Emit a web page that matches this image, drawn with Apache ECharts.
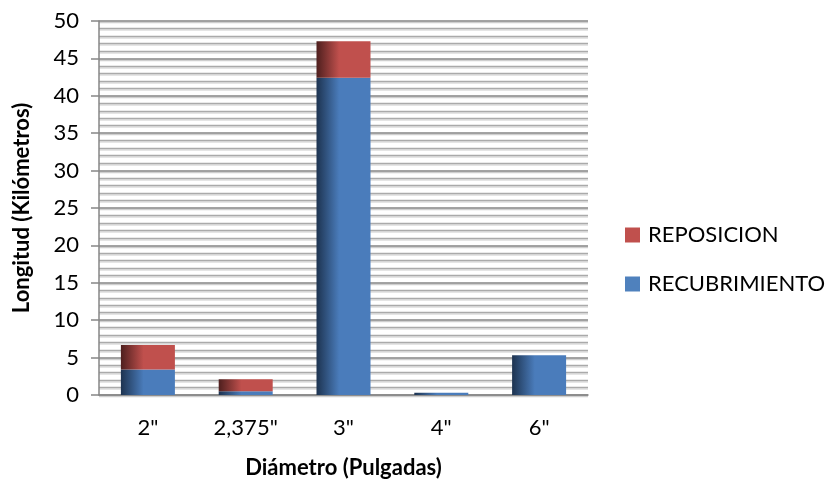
<!DOCTYPE html>
<html>
<head>
<meta charset="utf-8">
<script src="https://cdn.jsdelivr.net/npm/echarts@6/dist/echarts.min.js"></script>
<style>
  html, body { margin: 0; padding: 0; background: #ffffff; }
  #chart { width: 828px; height: 485px; }
</style>
</head>
<body>
<div id="chart"></div>
<script>
// Pipe diameters and lengths (km) per kind of work
const categories = ['2"', '2,375"', '3"', '4"', '6"'];
const recubrimiento = [3.4, 0.5, 42.4, 0.3, 5.3];
const reposicion = [3.3, 1.6, 4.9, 0, 0];
const yTicks = { min: 0, max: 50, interval: 5 };

const FONT = 'Lato, "Open Sans", sans-serif';

function shade(dark, base) {
  return new echarts.graphic.LinearGradient(0, 0, 1, 0, [
    { offset: 0, color: dark },
    { offset: 0.42, color: base },
    { offset: 1, color: base }
  ]);
}

const chart = echarts.init(document.getElementById('chart'), null, { renderer: 'canvas' });

chart.setOption({
  animation: false,
  backgroundColor: '#ffffff',
  grid: { left: 99, right: 240, top: 21, bottom: 90 },
  legend: {
    orient: 'vertical',
    left: 620,
    top: 219,
    itemWidth: 15,
    itemHeight: 15,
    itemGap: 27,
    icon: 'rect',
    data: [
      { name: 'REPOSICION', itemStyle: { color: '#c0504d' } },
      { name: 'RECUBRIMIENTO', itemStyle: { color: '#4f81bd' } }
    ],
    textStyle: { fontFamily: FONT, fontSize: 22, color: '#000000', padding: [0, 0, 0, 3] }
  },
  xAxis: {
    type: 'category',
    data: categories,
    name: 'Diámetro (Pulgadas)',
    nameLocation: 'middle',
    nameGap: 62,
    nameTextStyle: { fontFamily: FONT, fontSize: 22, fontWeight: 'bold', color: '#000000' },
    axisLine: { lineStyle: { color: '#868686', width: 1.5 } },
    axisTick: { show: false },
    axisLabel: { fontFamily: FONT, fontSize: 22, color: '#000000', margin: 22 },
    splitLine: { show: false }
  },
  yAxis: {
    type: 'value',
    min: yTicks.min,
    max: yTicks.max,
    interval: yTicks.interval,
    name: 'Longitud (Kilómetros)',
    nameLocation: 'middle',
    nameGap: 66,
    nameRotate: 90,
    nameTextStyle: { fontFamily: FONT, fontSize: 22, fontWeight: 'bold', color: '#000000' },
    axisLine: { show: true, lineStyle: { color: '#868686', width: 1.5 } },
    axisTick: { show: true, length: 8, lineStyle: { color: '#868686', width: 1.5 } },
    axisLabel: { fontFamily: FONT, fontSize: 22, color: '#000000', margin: 20 },
    splitLine: {
      show: true,
      lineStyle: { color: '#858585', width: 1.6, shadowColor: '#cfcfcf', shadowOffsetY: 1.5, shadowBlur: 0 }
    },
    minorTick: { show: false, splitNumber: 5 },
    minorSplitLine: {
      show: true,
      lineStyle: { color: '#aaaaaa', width: 1.3, shadowColor: '#dddddd', shadowOffsetY: 1.5, shadowBlur: 0 }
    }
  },
  series: [
    {
      name: 'RECUBRIMIENTO',
      type: 'bar',
      stack: 'total',
      barWidth: 54,
      data: recubrimiento,
      itemStyle: { color: shade('#1d3350', '#4a7cbb') }
    },
    {
      name: 'REPOSICION',
      type: 'bar',
      stack: 'total',
      barWidth: 54,
      data: reposicion,
      itemStyle: { color: shade('#4e1f1e', '#c0504d') }
    }
  ]
});
</script>
</body>
</html>
